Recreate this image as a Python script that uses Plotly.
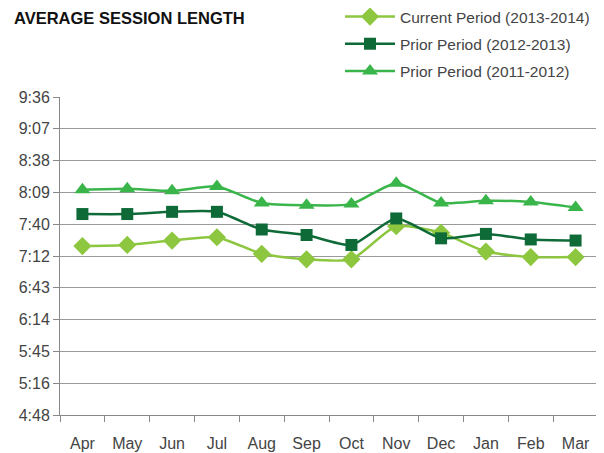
import plotly.graph_objects as go

months = ["Apr", "May", "Jun", "Jul", "Aug", "Sep", "Oct", "Nov", "Dec", "Jan", "Feb", "Mar"]
# values in seconds
current = [441, 442, 446, 449, 434, 429, 429, 459, 453, 436, 431, 431]
prior_2012 = [470, 470, 472, 472, 456, 451, 442, 466, 448, 452, 447, 446]
prior_2011 = [492, 493, 491, 495, 480, 478, 479, 498, 480, 482, 481, 476]

tick_vals = [288 + 28.8 * i for i in range(11)]
tick_text = ["4:48", "5:16", "5:45", "6:14", "6:43", "7:12", "7:40", "8:09", "8:38", "9:07", "9:36"]

series = [
    ("Current Period (2013-2014)", current, "#8DC63F", "diamond", 14),
    ("Prior Period (2012-2013)", prior_2012, "#0E6B38", "square", 12),
    ("Prior Period (2011-2012)", prior_2011, "#3AB54A", "triangle-up", 14),
]

OFF = 8  # page body margin
W, H = 604 - OFF, 453 - OFF
L, R, T, B = 60 - OFF, 6, 97 - OFF, 453 - 415
PW, PH = W - L - R, H - T - B

fig = go.Figure()
for i, (name, vals, color, sym, size) in enumerate(series):
    fig.add_trace(go.Scatter(
        x=months, y=vals, name=name, mode="lines+markers",
        line=dict(color=color, width=2.5, shape="spline", smoothing=0.6),
        marker=dict(symbol=sym, size=size, color=color),
        legendgroup=f"g{i}",
    ))

fig.update_layout(
    width=W, height=H,
    margin=dict(l=L, r=R, t=T, b=B, autoexpand=False),
    paper_bgcolor="white", plot_bgcolor="white",
    font=dict(family="Liberation Sans, Arial, sans-serif", color="#444444", size=16),
    showlegend=True,
    legend=dict(
        x=(340 - 60) / PW, y=1 + (97 - 0) / PH, xanchor="left", yanchor="top",
        font=dict(size=15.5, color="#444444"),
        traceorder="grouped", tracegroupgap=4, itemwidth=50,
        bgcolor="rgba(0,0,0,0)",
    ),
    annotations=[dict(
        text="<b>AVERAGE SESSION LENGTH</b>",
        x=(12 - 60) / PW, y=1 + (97 - 18) / PH, xref="paper", yref="paper",
        showarrow=False, xanchor="left", yanchor="middle",
        font=dict(size=16.5, color="#111111", family="Liberation Sans, Arial, sans-serif"),
    )],
)

fig.update_xaxes(
    type="category", range=[-0.5, len(months) - 0.5],
    tickson="boundaries", ticks="outside", ticklen=6,
    tickcolor="#888888", showline=True, linecolor="#888888", linewidth=1,
    showgrid=False, ticklabelstandoff=14,
)
fig.update_yaxes(
    range=[288, 576], tickvals=tick_vals, ticktext=tick_text,
    ticks="outside", ticklen=6, tickcolor="#888888",
    showline=True, linecolor="#888888", linewidth=1,
    showgrid=True, gridcolor="#9a9a9a", gridwidth=1, zeroline=False,
)

fig.write_html("out.html")
